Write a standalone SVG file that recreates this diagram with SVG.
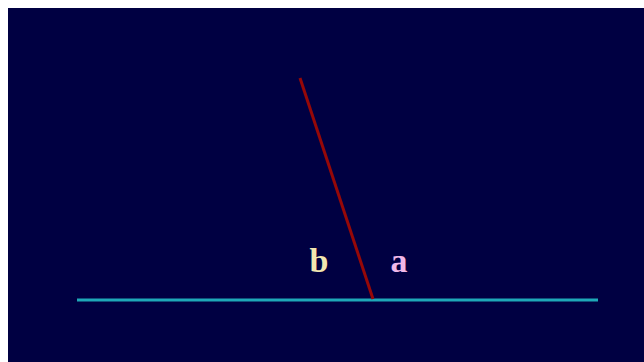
<svg xmlns="http://www.w3.org/2000/svg" width="644" height="362" viewBox="0 0 644 362">
<style>
.lbl{font-family:"Liberation Serif","DejaVu Serif",serif;font-weight:bold;font-size:34px;text-anchor:middle}
</style>
<rect x="0" y="0" width="644" height="362" fill="#ffffff"/>
<rect x="8" y="8" width="636" height="354" fill="#000042"/>
<g id="connectors">
<line x1="77" y1="300" x2="598" y2="300" stroke="#1ea8b8" stroke-width="3"/>
<line x1="300" y1="78" x2="373" y2="299" stroke="#960808" stroke-width="3"/>
</g>
<g id="label-b"><text class="lbl" x="319" y="272" fill="#f2e6b0">b</text></g>
<g id="label-a"><text class="lbl" x="399" y="272" fill="#f0b8e8">a</text></g>
</svg>
